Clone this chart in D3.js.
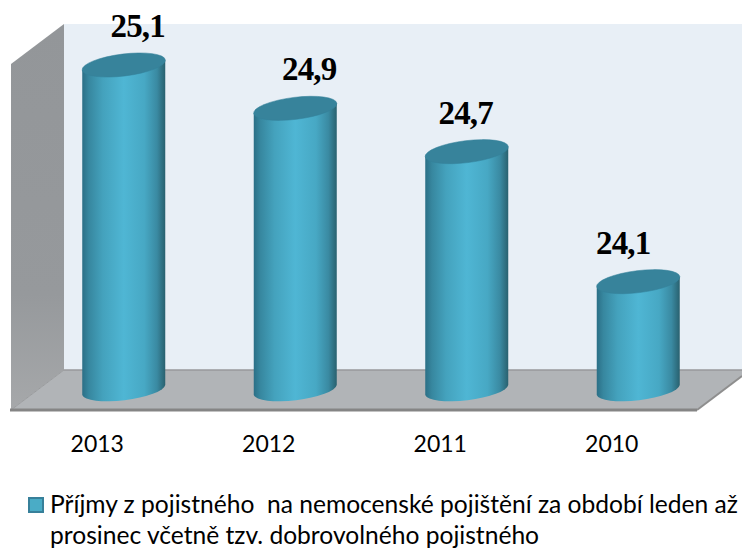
<!DOCTYPE html>
<html><head><meta charset="utf-8">
<script src="https://cdn.jsdelivr.net/npm/d3@7/dist/d3.min.js"></script>
<style>html,body{margin:0;padding:0;background:#fff;overflow:hidden}svg{display:block}</style>
</head><body><svg id="c" width="742" height="550"></svg>
<script>
const years = ["2013","2012","2011","2010"];
const values = [25.1,24.9,24.7,24.1];
const valueLabels = ["25,1","24,9","24,7","24,1"];
const legendLines = ["Příjmy z pojistného  na nemocenské pojištění za období leden až","prosinec včetně tzv. dobrovolného pojistného"];

const svg = d3.select("#c");
const x = d3.scaleBand().domain(years).range([38,724]).paddingInner(0.516).paddingOuter(0.258);
const y = d3.scaleLinear().domain([23.6,25.1]).range([390,65]);
const line = d3.line();

const defs = svg.append("defs");
const g = defs.append("linearGradient").attr("id","cyl").attr("x1",0).attr("x2",1).attr("y1",0).attr("y2",0);
[[0,"#2b6f86"],[0.08,"#37879f"],[0.25,"#44a2bd"],[0.5,"#4fb6d4"],[0.75,"#47a8c4"],[0.9,"#3a8aa2"],[1,"#29616f"]]
  .forEach(([o,c])=>g.append("stop").attr("offset",o).attr("stop-color",c));
const w = defs.append("linearGradient").attr("id","wall").attr("x1",0).attr("x2",0).attr("y1",0).attr("y2",1);
[[0,"#939699"],[0.7,"#96999c"],[1,"#a6a8aa"]].forEach(([o,c])=>w.append("stop").attr("offset",o).attr("stop-color",c));

// 3D box
svg.append("path").attr("d",line([[64,24],[742,24],[742,370],[64,370]])+"Z").attr("fill","#e8eff6");
svg.append("path").attr("d",line([[11,64],[64,24],[64,370],[11,410]])+"Z").attr("fill","url(#wall)");
svg.append("path").attr("d",line([[11,410],[64,370],[742,370],[742,376],[697,410]])+"Z").attr("fill","#b1b4b7");
svg.append("path").attr("d",line([[64,370],[742,370]])).attr("stroke","#98999b").attr("stroke-width",1.5).attr("fill","none");
svg.append("path").attr("d",line([[11,410],[64,370]])).attr("stroke","#9a9c9e").attr("stroke-width",1).attr("fill","none");
svg.append("path").attr("d",line([[697,410],[742,376]])).attr("stroke","#8e8e8e").attr("stroke-width",2).attr("fill","none");
svg.append("path").attr("d",line([[10,410],[697,410]])).attr("stroke","#858585").attr("stroke-width",3).attr("fill","none");

// cylinders
const rx = 41.9, ry = 11, rot = -7, tilt = 5;
const bw = x.bandwidth();
const bars = svg.selectAll("g.bar").data(years).join("g").attr("class","bar");
bars.append("path")
  .attr("fill","url(#cyl)")
  .attr("d",(d,i)=>{
    const l=x(d), r=l+bw, t=y(values[i]), b=y.range()[0];
    return `M${l},${t+tilt}L${r},${t-tilt}L${r},${b-tilt}A${rx},${ry} ${rot} 0 1 ${l},${b+tilt}Z`;
  });
bars.append("ellipse")
  .attr("fill","#37839b")
  .attr("stroke","#348099").attr("stroke-width",0.5)
  .attr("rx",rx).attr("ry",ry)
  .attr("transform",(d,i)=>`translate(${x(d)+bw/2},${y(values[i])}) rotate(${rot})`);

// value labels
const labelDx = [14,14,-1,-15];
bars.append("text").text((d,i)=>valueLabels[i])
  .attr("x",(d,i)=>x(d)+bw/2+labelDx[i])
  .attr("y",(d,i)=>y(values[i])-28)
  .attr("text-anchor","middle")
  .attr("font-family","Liberation Serif")
  .attr("font-weight","bold")
  .attr("font-size",33)
  .attr("letter-spacing",-0.8)
  .attr("fill","#000");

// category axis, set on the front edge of the floor
const xFront = x.copy().range([38-26.5,724-26.5]);
const axis = svg.append("g").attr("transform","translate(0,432)")
  .call(d3.axisBottom(xFront).tickSize(0).tickPadding(0));
axis.select(".domain").remove();
axis.selectAll("text").attr("font-family","Lato").attr("font-size",23).attr("fill","#000").attr("dy",0).attr("y",20);

// legend
svg.append("rect").attr("x",29).attr("y",498).attr("width",14).attr("height",14)
  .attr("fill","#4aacc6").attr("stroke","#37809a").attr("stroke-width",2);
svg.selectAll("text.leg").data(legendLines).join("text").attr("class","leg")
  .attr("x",50).attr("y",(d,i)=>513+i*31)
  .attr("xml:space","preserve").style("white-space","pre")
  .attr("font-family","Lato").attr("font-size",24.6).attr("fill","#000")
  .text(d=>d);
</script></body></html>
